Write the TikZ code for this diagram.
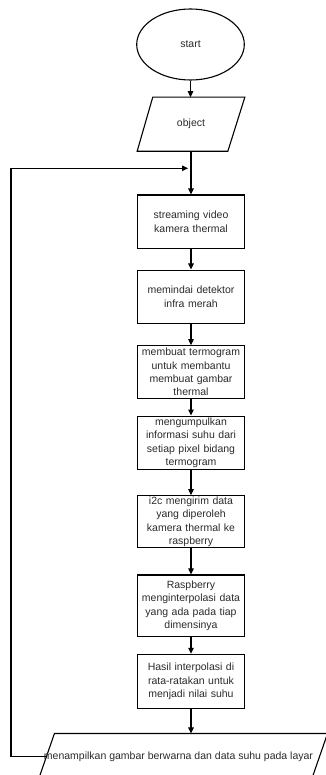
\documentclass[tikz,border=0pt]{standalone}
\usepackage{fontspec}
\setmainfont{Liberation Sans}
\usetikzlibrary{shapes.geometric,arrows.meta,calc}
\definecolor{txt}{HTML}{2A2A2A}
\begin{document}
\begin{tikzpicture}[x=1pt,y=-1pt,
  base/.style={text=txt, font=\fontsize{10.5}{13.3}\selectfont, align=center, line width=1.1pt},
  proc/.style={base, draw, rectangle, minimum width=106.6pt, text width=104pt, inner sep=1pt},
  flow/.style={line width=1.1pt, -{Triangle[length=6pt,width=5.5pt]}}
]
\useasboundingbox (0,0) rectangle (325,775);
\node[base, draw, ellipse, minimum width=107.6pt, minimum height=71pt] (start) at (190.5,44.5) {start};
\node[base, minimum width=106.6pt, minimum height=53pt, inner sep=0pt] (obj) at (191,124.2) {object};
\draw[line width=1.1pt] ([xshift=15.6pt]obj.north west) -- (obj.north east) -- ([xshift=-17pt]obj.south east) -- (obj.south west) -- cycle;
\node[proc, minimum height=53.3pt] (b1) at (191,221.7) {streaming video\\kamera thermal};
\node[proc, minimum height=53.3pt] (b2) at (191,296.7) {memindai detektor\\infra merah};
\node[proc, minimum height=52.6pt] (b3) at (191,372) {membuat termogram\\untuk membantu\\membuat gambar\\thermal};
\node[proc, minimum height=53.3pt] (b4) at (191,442.7) {mengumpulkan\\informasi suhu dari\\setiap pixel bidang\\termogram};
\node[proc, minimum height=52pt] (b5) at (191,521.7) {i2c mengirim data\\yang diperoleh\\kamera thermal ke\\raspberry};
\node[proc, minimum height=61.7pt] (b6) at (191,605.8) {Raspberry\\menginterpolasi data\\yang ada pada tiap\\dimensinya};
\node[proc, minimum height=54pt] (b7) at (191,681.3) {Hasil interpolasi di\\rata-ratakan untuk\\menjadi nilai suhu};
\node[base, minimum width=288pt, minimum height=45pt, inner sep=0pt] (out) at (183,756.5) {};
\draw[line width=1.1pt] ([xshift=16pt]out.north west) -- (out.north east) -- ([xshift=-16pt]out.south east) -- (out.south west) -- cycle;
\node[base, inner sep=0pt] (outtext) at (178.5,756.5) {menampilkan gambar berwarna dan data suhu pada layar};
\draw[flow] (start.south) -- (start.south |- obj.north);
\draw[flow] (obj.south -| b1.north) -- (b1.north);
\draw[flow] (b1) -- (b2);
\draw[flow] (b2) -- (b3);
\draw[flow] (b3) -- (b4);
\draw[flow] (b4) -- (b5);
\draw[flow] (b5) -- (b6);
\draw[flow] (b6) -- (b7);
\draw[flow] (b7.south) -- (b7.south |- out.north);
\coordinate (outL) at ($(out.north west)!0.5!(out.south west)+(8pt,0)$);
\coordinate (loopc) at (11,168.3);
\coordinate (loopend) at (188,168.3);
\draw[flow] (outL) -- (outL -| loopc) -- (loopc) -- (loopend);
\end{tikzpicture}
\end{document}
